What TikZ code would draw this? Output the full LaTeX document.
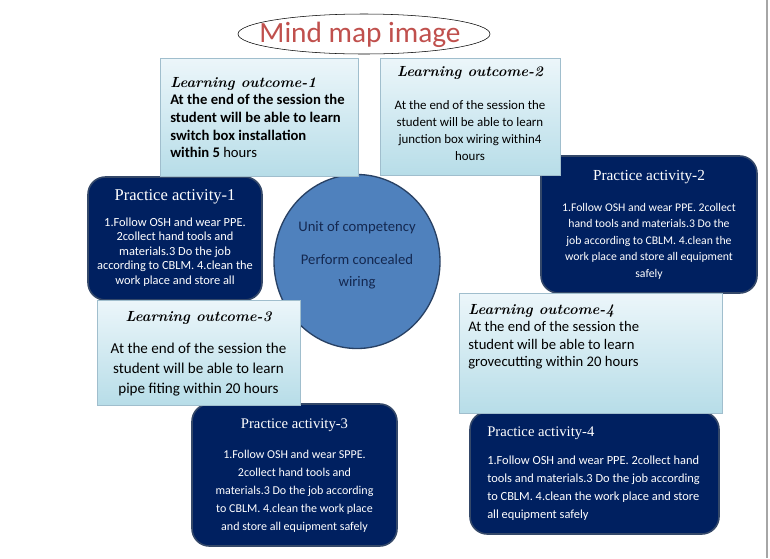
\documentclass[tikz,border=0pt]{standalone}
\usepackage{fontspec}
\usepackage{tikz}
\usetikzlibrary{shapes.geometric}
\newfontfamily\calibri{Carlito}
\newfontfamily\cambria{Liberation Serif}
\definecolor{navy}{RGB}{0,32,96}
\definecolor{navyedge}{RGB}{52,72,105}
\definecolor{paleblue}{RGB}{236,246,250}
\definecolor{lightblue}{RGB}{183,221,232}
\definecolor{boxedge}{RGB}{160,190,205}
\definecolor{unitblue}{RGB}{79,129,189}
\definecolor{unitedge}{RGB}{40,65,100}
\definecolor{unittext}{RGB}{20,40,80}
\definecolor{titlered}{RGB}{192,80,77}

\begin{document}
\begin{tikzpicture}[x=0.75pt,y=-0.75pt,
	boxsize/.style 2 args={minimum width=#1*0.75pt,minimum height=#2*0.75pt,inner sep=0pt},
	outcomebox/.style={draw=boxedge,top color=paleblue,bottom color=lightblue},
	activitybox/.style={draw=navyedge,line width=1.2pt,fill=navy,rounded corners=13pt},
	outcometitle/.style={font=\rmfamily\bfseries\itshape\fontsize{11}{12}\selectfont,inner sep=0pt},
	outcometext/.style 2 args={font=\calibri\fontsize{#1}{#2}\selectfont,inner sep=0pt},
	activitytitle/.style={font=\cambria\fontsize{#1}{13}\selectfont,text=white,inner sep=0pt},
	activitytext/.style 2 args={font=\calibri\fontsize{#1}{#2}\selectfont,text=white,inner sep=0pt}]
	\useasboundingbox (0,0) rectangle (770,558);
	\draw[gray!70,line width=0.8pt] (767,0)--(767,558);
	
	%Unit of competency
	\node[ellipse,draw=unitedge,line width=1pt,fill=unitblue,boxsize={166}{174}] (unit) at (357,261.5) {};
	\node[font=\calibri\fontsize{11}{16}\selectfont,text=unittext,inner sep=0pt] (unitname) at (357,228) {Unit of competency};
	\node[font=\calibri\fontsize{11}{16}\selectfont,text=unittext,align=center,inner sep=0pt] (unittask) at (357,271.5) {Perform concealed\\wiring};
	
	%Practice activities
	\node[activitybox,boxsize={174}{123}] (pa1) at (175,238.5) {};
	\node[activitytitle=12.4] (pa1title) at (175,197) {Practice activity-1};
	\node[activitytext={9.3}{10.9},align=center] (pa1text) at (175,252) {1.Follow OSH and wear PPE.\\2collect hand tools and\\materials.3 Do the job\\according to CBLM. 4.clean the\\work place and store all};
	
	\node[activitybox,boxsize={216}{137}] (pa2) at (649,224.5) {};
	\node[activitytitle=11.5] (pa2title) at (649,177) {Practice activity-2};
	\node[activitytext={8.8}{12.4},align=center] (pa2text) at (649,241) {1.Follow OSH and wear PPE. 2collect\\hand tools and materials.3 Do the\\job according to CBLM. 4.clean the\\work place and store all equipment\\safely};
	
	\node[activitybox,boxsize={205}{142}] (pa3) at (294.5,475) {};
	\node[activitytitle=11] (pa3title) at (294.5,425) {Practice activity-3};
	\node[activitytext={9}{13.5},align=center] (pa3text) at (294.5,491) {1.Follow OSH and wear SPPE.\\2collect hand tools and\\materials.3 Do the job according\\to CBLM. 4.clean the work place\\and store all equipment safely};
	
	\node[activitybox,boxsize={249}{122}] (pa4) at (594.5,473) {};
	\node[activitytitle=11,anchor=west] (pa4title) at (487,433) {Practice activity-4};
	\node[activitytext={9.3}{13.3},align=left,anchor=north west] (pa4text) at (487,456) {1.Follow OSH and wear PPE. 2collect hand\\tools and materials.3 Do the job according\\to CBLM. 4.clean the work place and store\\all equipment safely};
	
	%Learning outcomes
	\node[outcomebox,boxsize={198}{118}] (lo1) at (259,117) {};
	\node[outcometitle,anchor=west] (lo1title) at (170,84) {Learning outcome-1};
	\node[font=\calibri\bfseries\fontsize{11}{13.3}\selectfont,inner sep=0pt,align=left,anchor=north west] (lo1text) at (170,94) {At the end of the session the\\student will be able to learn\\switch box installation\\within 5 \mdseries hours};
	
	\node[outcomebox,boxsize={180}{117}] (lo2) at (470,116.5) {};
	\node[outcometitle] (lo2title) at (470,73) {Learning outcome-2};
	\node[outcometext={9.7}{12.75},align=center] (lo2text) at (470,131) {At the end of the session the\\student will be able to learn\\junction box wiring within4\\hours};
	
	\node[outcomebox,boxsize={203}{105}] (lo3) at (198.5,352.5) {};
	\node[outcometitle] (lo3title) at (198.5,318) {Learning outcome-3};
	\node[outcometext={11.3}{15},align=center] (lo3text) at (198.5,370) {At the end of the session the\\student will be able to learn\\pipe fiting within 20 hours};
	
	\node[outcomebox,boxsize={263}{120}] (lo4) at (590.5,353) {};
	\node[outcometitle,anchor=west] (lo4title) at (468,311) {Learning outcome-4};
	\node[outcometext={11}{13.2},align=left,anchor=north west] (lo4text) at (468,321) {At the end of the session the\\student will be able to learn\\grovecutting within 20 hours};
	
	%title
	\node[ellipse,draw,fill=white,boxsize={252}{40}] (title) at (364,34) {};
	\node[font=\calibri\fontsize{22}{26}\selectfont,text=titlered] (titletext) at (360,35) {Mind map image};
\end{tikzpicture}
\end{document}
